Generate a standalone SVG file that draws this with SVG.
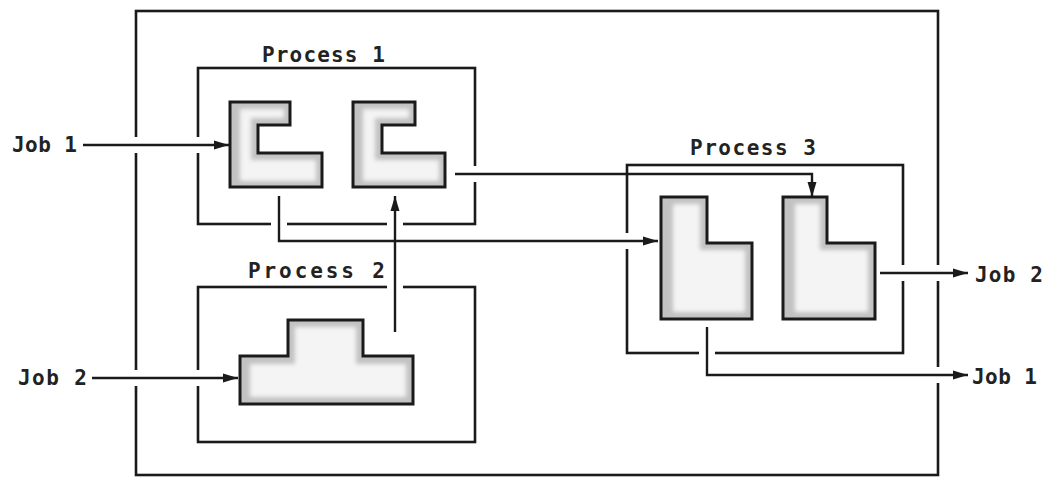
<svg xmlns="http://www.w3.org/2000/svg" width="1048" height="479" viewBox="0 0 1048 479">
<style>
.box{fill:none;stroke:#1a1a1a;stroke-width:2.6}
.gap{stroke:#fff;stroke-width:16;fill:none}
.shp{fill:#c2c2c2;stroke:none}
.in{fill:#f4f4f4;filter:url(#soft)}
.ol{fill:none;stroke:#1a1a1a;stroke-width:3;stroke-linejoin:miter}
.con{fill:none;stroke:#1a1a1a;stroke-width:2.4;marker-end:url(#ah)}
.lbl{font-family:"DejaVu Sans Mono","Liberation Mono",monospace;font-size:21px;font-weight:bold;fill:#222}
</style>
<defs>
<marker id="ah" markerUnits="userSpaceOnUse" markerWidth="16" markerHeight="10" refX="15" refY="5" orient="auto">
<path d="M0,0.5 L15,5 L0,9.5 z" fill="#1a1a1a"/>
</marker>
<filter id="soft" x="-10%" y="-10%" width="120%" height="120%"><feGaussianBlur stdDeviation="2.2"/></filter>
</defs>
<rect width="1048" height="479" fill="#fff"/>

<g id="system">
<rect class="box" x="136" y="11" width="802" height="464"/>
</g>
<g id="process1">
<rect class="box" x="198" y="68" width="277" height="156"/>
<text class="lbl" x="262" y="62" textLength="123" lengthAdjust="spacing">Process 1</text>
</g>
<g id="process2">
<rect class="box" x="198" y="287" width="277" height="155"/>
<text class="lbl" x="248" y="278" textLength="137" lengthAdjust="spacing">Process 2</text>
</g>
<g id="process3">
<rect class="box" x="627" y="165" width="276" height="188"/>
<text class="lbl" x="690" y="155" textLength="126" lengthAdjust="spacing">Process 3</text>
</g>

<g id="gaps">
<path class="gap" d="M131,145 H143 M192,145 H204 M130,378 H142 M192,378 H204 M469,174 H481 M279,218 V230 M621,241 H633 M395,281 V293 M395,218 V230 M707,347 V359 M932,375 H944 M897,273 H909 M932,273 H944"/>
</g>

<g id="p1-part-a">
<polygon class="shp" points="230,102 290,102 290,125 258,125 258,153 322,153 322,187 230,187"/>
<polygon class="in" points="240,109 284,109 284,118 251,118 251,160 316,160 316,181 240,181"/>
<polygon class="ol" points="230,102 290,102 290,125 258,125 258,153 322,153 322,187 230,187"/>
</g>
<g id="p1-part-b">
<polygon class="shp" points="353,102 415,102 415,125 382,125 382,153 445,153 445,187 353,187"/>
<polygon class="in" points="363,109 409,109 409,118 375,118 375,160 439,160 439,181 363,181"/>
<polygon class="ol" points="353,102 415,102 415,125 382,125 382,153 445,153 445,187 353,187"/>
</g>
<g id="p2-part">
<polygon class="shp" points="240,356 288,356 288,320 363,320 363,356 413,356 413,404 240,404"/>
<polygon class="in" points="250,364 295,364 295,327 356,327 356,364 406,364 406,397 250,397"/>
<polygon class="ol" points="240,356 288,356 288,320 363,320 363,356 413,356 413,404 240,404"/>
</g>
<g id="p3-part-a">
<polygon class="shp" points="661,197 707,197 707,243 752,243 752,319 661,319"/>
<polygon class="in" points="673,204 700,204 700,250 745,250 745,312 673,312"/>
<polygon class="ol" points="661,197 707,197 707,243 752,243 752,319 661,319"/>
</g>
<g id="p3-part-b">
<polygon class="shp" points="783,197 827,197 827,243 875,243 875,319 783,319"/>
<polygon class="in" points="795,204 820,204 820,250 868,250 868,312 795,312"/>
<polygon class="ol" points="783,197 827,197 827,243 875,243 875,319 783,319"/>
</g>

<g id="connectors">
<path class="con" d="M83,145 H229"/>
<path class="con" d="M92,378 H238"/>
<path class="con" d="M455,174 H812 V197"/>
<path class="con" d="M279,196 V241 H658"/>
<path class="con" d="M395,332 V196"/>
<path class="con" d="M707,327 V375 H968"/>
<path class="con" d="M880,273 H968"/>
</g>

<g id="labels">
<text class="lbl" x="12" y="152" textLength="65" lengthAdjust="spacing">Job 1</text>
<text class="lbl" x="18" y="385" textLength="69" lengthAdjust="spacing">Job 2</text>
<text class="lbl" x="975" y="282" textLength="68" lengthAdjust="spacing">Job 2</text>
<text class="lbl" x="972" y="384" textLength="65" lengthAdjust="spacing">Job 1</text>
</g>
</svg>
